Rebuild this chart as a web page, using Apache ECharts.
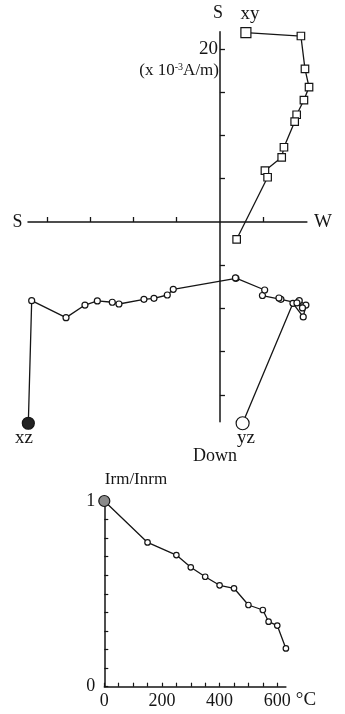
<!DOCTYPE html>
<html>
<head>
<meta charset="utf-8">
<script src="https://cdn.jsdelivr.net/npm/echarts@6/dist/echarts.min.js"></script>
<style>
  html, body { margin: 0; padding: 0; background: #fff; }
  #chart { width: 345px; height: 714px; }
</style>
</head>
<body>
<div id="chart"></div>
<script>
// Orthogonal vector projections, units x 10^-3 A/m (first entry = NRM)
const xyEast  = [3.0, 9.36, 9.83, 10.3, 9.71, 8.87, 8.64, 7.40, 7.14, 5.20, 5.51, 1.93];
const xyNorth = [21.9, 21.5, 17.7, 15.6, 14.1, 12.4, 11.6, 8.64, 7.48, 5.93, 5.17, -2.0];

const xzHoriz = [-22.16, -21.77, -17.80, -15.61, -14.18, -12.45, -11.68, -8.79, -7.63, -6.09, -5.40, 1.85];
const xzVert  = [-23.27, -9.10, -11.06, -9.60, -9.13, -9.28, -9.48, -8.94, -8.82, -8.44, -7.78, -6.51];

const yzHoriz = [2.62, 8.44, 9.63, 9.94, 9.17, 9.54, 8.90, 7.05, 6.82, 4.91, 5.17, 1.79];
const yzVert  = [-23.27, -9.40, -10.98, -9.60, -9.10, -9.94, -9.36, -8.94, -8.79, -8.50, -7.86, -6.47];

const zijTicksH  = [-20, -15, -10, -5, 5];
const zijTicksV  = [20, 15, 10, 5, -5, -10, -15, -20];
const zijLabelsV = [20];

// Thermal demagnetisation curve
const tempsC = [0, 150, 250, 300, 350, 400, 450, 500, 550, 570, 600, 630];
const irmRatio = [1.0, 0.777, 0.709, 0.643, 0.592, 0.546, 0.530, 0.440, 0.413, 0.350, 0.329, 0.206];
const tempLabels = [0, 200, 400, 600];
const ratioLabels = [0, 1];

const INK = '#151515';
const SERIF = '"Liberation Serif", "DejaVu Serif", serif';

function points(xs, ys, first) {
  return xs.map((x, i) => i === 0 ? Object.assign({ value: [x, ys[i]] }, first) : { value: [x, ys[i]] });
}

function label(text, x, y, size, align) {
  const a = align || 'center';
  return {
    type: 'text', x: x, y: y, z: 10,
    style: { text: text, font: size + 'px ' + SERIF, fill: INK,
             textAlign: a, textVerticalAlign: 'middle', align: a, verticalAlign: 'middle' }
  };
}

const chart = echarts.init(document.getElementById('chart'), null, { renderer: 'canvas' });

const baseLine = { color: INK, width: 1.3 };
const openMark = { color: '#fff', borderColor: INK, borderWidth: 1.2 };

chart.setOption({
  animation: false,
  backgroundColor: '#fff',
  grid: [
    { left: 27.97, top: 31.7, width: 278.9, height: 390.1, containLabel: false, outerBoundsMode: 'none' },
    { left: 104.3, top: 501, width: 181.6, height: 185.7, containLabel: false, outerBoundsMode: 'none' }
  ],
  xAxis: [
    {
      type: 'value', gridIndex: 0, min: -22.2, max: 10.05,
      axisLine: { onZero: true, lineStyle: { color: INK, width: 1.5 } },
      axisTick: { show: true, inside: true, length: 5, customValues: zijTicksH, lineStyle: { color: INK, width: 1.3 } },
      axisLabel: { show: false },
      splitLine: { show: false }
    },
    {
      type: 'value', gridIndex: 1, min: 0, max: 630, interval: 50,
      axisLine: { onZero: false, lineStyle: { color: INK, width: 1.5 } },
      axisTick: { show: true, inside: true, length: 4, lineStyle: { color: INK, width: 1.2 } },
      axisLabel: {
        margin: 6, color: INK, fontFamily: SERIF, fontSize: 18, showMaxLabel: false,
        formatter: v => tempLabels.indexOf(Math.round(v)) >= 0 ? String(Math.round(v)) : ''
      },
      splitLine: { show: false }
    }
  ],
  yAxis: [
    {
      type: 'value', gridIndex: 0, min: -23.1, max: 22.0,
      axisLine: { onZero: true, lineStyle: { color: INK, width: 1.5 } },
      axisTick: { show: true, inside: true, length: 5, customValues: zijTicksV, lineStyle: { color: INK, width: 1.3 } },
      axisLabel: { show: false },
      splitLine: { show: false }
    },
    {
      type: 'value', gridIndex: 1, min: 0, max: 1, interval: 0.1,
      axisLine: { onZero: false, lineStyle: { color: INK, width: 1.5 } },
      axisTick: { show: true, inside: true, length: 4, lineStyle: { color: INK, width: 1.2 } },
      axisLabel: {
        margin: 9, color: INK, fontFamily: SERIF, fontSize: 18,
        formatter: v => ratioLabels.some(r => Math.abs(r - v) < 1e-6) ? String(Math.round(v)) : ''
      },
      splitLine: { show: false }
    }
  ],
  series: [
    {
      name: 'xy', type: 'line', xAxisIndex: 0, yAxisIndex: 0, clip: false,
      data: points(xyEast, xyNorth, { symbolSize: 10 }),
      symbol: 'rect', symbolSize: 7.5,
      itemStyle: openMark, lineStyle: baseLine, z: 3
    },
    {
      name: 'xz', type: 'line', xAxisIndex: 0, yAxisIndex: 0, clip: false,
      data: points(xzHoriz, xzVert, { symbolSize: 12, itemStyle: { color: '#222', borderColor: INK, borderWidth: 1.2 } }),
      symbol: 'circle', symbolSize: 6,
      itemStyle: openMark, lineStyle: baseLine, z: 3
    },
    {
      name: 'yz', type: 'line', xAxisIndex: 0, yAxisIndex: 0, clip: false,
      data: points(yzHoriz, yzVert, { symbolSize: 13 }),
      symbol: 'circle', symbolSize: 6,
      itemStyle: openMark, lineStyle: baseLine, z: 3
    },
    {
      name: 'Irm/Inrm', type: 'line', xAxisIndex: 1, yAxisIndex: 1, clip: false,
      data: points(tempsC, irmRatio, { symbolSize: 11, itemStyle: { color: '#8a8a8a', borderColor: INK, borderWidth: 1.2 } }),
      symbol: 'circle', symbolSize: 5.5,
      itemStyle: openMark, lineStyle: baseLine, z: 3
    }
  ]
});

// Tick label on the vertical projection axis, placed from the axis scale
const tickLabels = zijLabelsV.map(v => {
  const p = chart.convertToPixel({ gridIndex: 0 }, [0, v]);
  return label(String(v), p[0] - 2, p[1], 19, 'right');
});

chart.setOption({
  graphic: tickLabels.concat([
    label('S', 17.5, 222, 18),
    label('W', 323, 222, 19),
    label('S', 218, 13, 18),
    label('xy', 250, 14, 19),
    {
      type: 'text', x: 219, y: 71, z: 10,
      style: {
        text: '(x 10{sup|-3}A/m)', font: '17px ' + SERIF, fill: INK,
        textAlign: 'right', textVerticalAlign: 'middle', align: 'right', verticalAlign: 'middle',
        rich: { sup: { fontSize: 10, fontFamily: SERIF, verticalAlign: 'top', color: INK } }
      }
    },
    label('xz', 24, 438, 19),
    label('yz', 246, 438, 19),
    label('Down', 215, 456, 18),
    label('Irm/Inrm', 136, 480, 17),
    label('°C', 306, 700, 19)
  ])
});
</script>
</body>
</html>
